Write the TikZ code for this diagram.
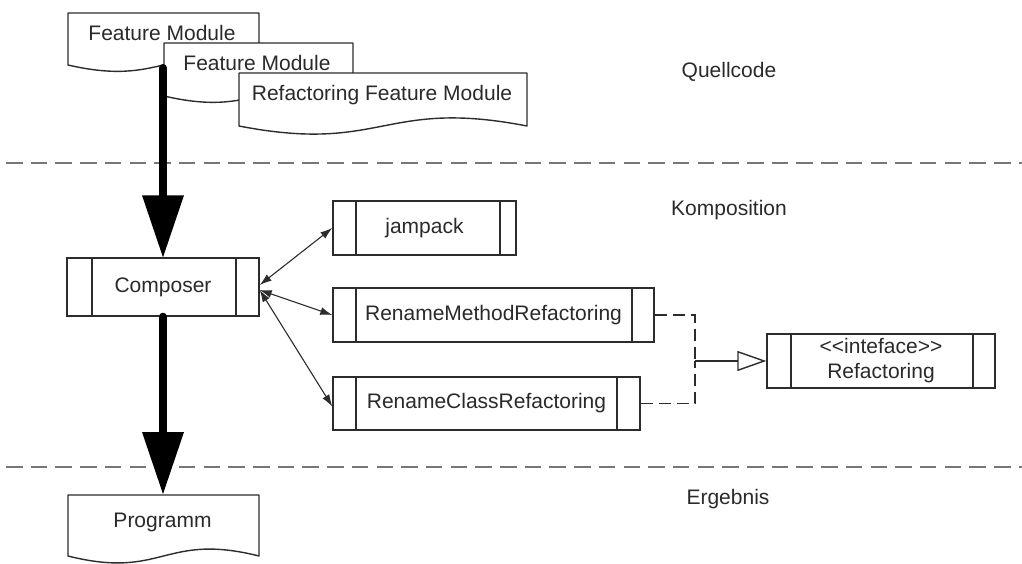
\documentclass[tikz,border=0pt]{standalone}
\usepackage{fontspec}
\setmainfont{Liberation Sans}
\usetikzlibrary{arrows.meta,calc}

\definecolor{edge}{HTML}{2C2C2C}
\definecolor{sep}{HTML}{777777}
\definecolor{ink}{HTML}{2A2A2A}

% document outline: left, right, top, bottom baseline, wave control offset
\newcommand\docoutline[5]{%
  \filldraw[docline] (#1,#4) -- (#1,#3) -- (#2,#3) -- (#2,#4)
    .. controls ({(#1+#2)/2},#4-#5) and ({(#1+#2)/2},#4+#5) .. (#1,#4) -- cycle;}

\tikzset{
  docline/.style={draw=edge, fill=white, line width=1.4pt, line join=round},
  label/.style={text=ink, font=\fontsize{21}{25}\selectfont, inner sep=0pt},
  subbox/.style n args={4}{draw=edge, fill=white, line width=1.4pt, inner sep=0pt,
    minimum width=#1, minimum height=#2, text=ink, align=center,
    font=\fontsize{21}{25}\selectfont,
    path picture={
      \draw[edge, line width=1.4pt]
        ([xshift=#3]path picture bounding box.north west) -- ([xshift=#3]path picture bounding box.south west)
        ([xshift=-#4]path picture bounding box.north east) -- ([xshift=-#4]path picture bounding box.south east);
    }},
  bigarrow/.style={line width=8pt, line cap=round, draw=black,
    -{Triangle[length=62pt, width=42pt, line width=0pt]}},
  link/.style={draw=edge, line width=1.1pt,
    {Latex[length=12pt, width=8pt]}-{Latex[length=12pt, width=8pt]}},
  realize/.style={draw=edge, line width=1.6pt, dash pattern=on 12pt off 6pt},
  generalize/.style={draw=edge, line width=1.4pt,
    -{Triangle[open, length=29pt, width=20pt, fill=white]}},
  sepline/.style={draw=sep, line width=2pt, dash pattern=on 16.5pt off 8.2pt},
}

\begin{document}
\begin{tikzpicture}[x=1pt, y=-1pt]
\useasboundingbox (0,0) rectangle (1022,563);

% layer separators
\draw[sepline] (6,163) -- (1022,163);
\draw[sepline] (6,467) -- (1022,467);

% layer titles
\node[label] (quell) at (729,72) {Quellcode};
\node[label] (kompo) at (729,210) {Komposition};
\node[label] (ergeb) at (728,499) {Ergebnis};

% source documents
\docoutline{68}{259}{13}{65}{22}
\node[label] (fm1) at (162,33) {Feature Module};
\docoutline{164}{353}{43}{96}{22}
\node[label] (fm2) at (257,63) {Feature Module};
\docoutline{239}{527}{73}{126}{28}
\node[label] (rfm) at (382,95) {Refactoring Feature Module};

% composition
\node[subbox={192pt}{58pt}{25pt}{23pt}] (composer) at (163,287) {Composer};
\node[subbox={183pt}{54pt}{23pt}{16pt}] (jampack) at (424.5,228) {jampack};
\node[subbox={321pt}{54pt}{23pt}{22pt}] (rmr) at (493.5,315) {RenameMethodRefactoring};
\node[subbox={307pt}{53pt}{23pt}{23pt}] (rcr) at (486.5,403.5) {RenameClassRefactoring};
\node[subbox={228pt}{54pt}{24pt}{22pt}] (iface) at (881,361)
  {{<}{<}inteface{>}{>}\\Refactoring};

% result document
\docoutline{68}{259}{495}{556}{24}
\node[label] (prog) at (162.5,522) {Programm};

% flow arrows
\coordinate (src) at (163,68);
\coordinate (progtop) at (163,494);
\draw[bigarrow] (src) -- (composer.north);
\draw[bigarrow] (composer.south) -- (progtop);

% composer uses the tools
\draw[link] ([yshift=2pt]composer.east) -- (jampack.west);
\draw[link] ([yshift=-3pt]composer.east) -- (rmr.west);
\draw[link] ([yshift=-3pt]composer.east) -- ([yshift=-3pt]rcr.west);

% both refactorings implement the interface
\coordinate (join) at (695,361);
\draw[realize] (rmr.east) -| (join);
\draw[realize] (rcr.east) -| (join);
\draw[generalize] (join) -- (iface.west);
\end{tikzpicture}
\end{document}
